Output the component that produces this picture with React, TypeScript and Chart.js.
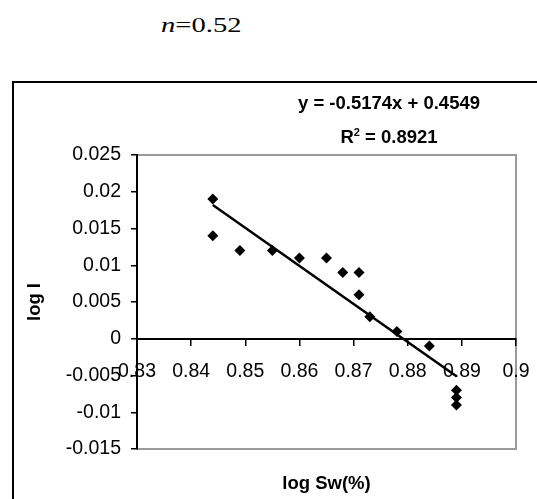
import React, { useEffect, useRef } from "react";
import { Chart, registerables } from "chart.js";

Chart.register(...registerables);

// Measured data points (log Sw(%), log I)
const xValues = [0.844, 0.844, 0.849, 0.855, 0.86, 0.865, 0.868, 0.871, 0.871, 0.873, 0.878, 0.884, 0.889, 0.889, 0.889];
const yValues = [0.019, 0.014, 0.012, 0.012, 0.011, 0.011, 0.009, 0.009, 0.006, 0.003, 0.001, -0.001, -0.007, -0.008, -0.009];

// Linear trend line end points (y = -0.5174x + 0.4549)
const trendX = [0.844, 0.889];
const trendY = [0.0182, -0.0051];

const xTickLabels = ["0.83", "0.84", "0.85", "0.86", "0.87", "0.88", "0.89", "0.9"];
const yTickLabels = ["-0.015", "-0.01", "-0.005", "0", "0.005", "0.01", "0.015", "0.02", "0.025"];

const titleText = "n=0.52";
const equationText = "y = -0.5174x + 0.4549";
const r2Text = "0.8921";
const xTitle = "log Sw(%)";
const yTitle = "log I";

const SANS = "'Liberation Sans', Arial, sans-serif";

const plotBorder = {
  id: "plotBorder",
  beforeDraw(chart: any) {
    const { ctx, chartArea } = chart;
    ctx.save();
    ctx.strokeStyle = "#9a9a9a";
    ctx.lineWidth = 2;
    ctx.strokeRect(chartArea.left, chartArea.top, chartArea.right - chartArea.left, chartArea.bottom - chartArea.top);
    ctx.restore();
  },
};

export default function App() {
  const ref = useRef<HTMLCanvasElement>(null);

  useEffect(() => {
    if (!ref.current) return;
    const chart = new Chart(ref.current, {
      type: "scatter",
      data: {
        datasets: [
          {
            label: "data",
            data: xValues.map((x, i) => ({ x, y: yValues[i] })),
            pointStyle: "rectRot",
            pointRadius: 5.5,
            backgroundColor: "#000",
            borderColor: "#000",
            borderWidth: 0,
          },
          {
            label: "trend",
            data: trendX.map((x, i) => ({ x, y: trendY[i] })),
            showLine: true,
            pointRadius: 0,
            borderColor: "#000",
            borderWidth: 2.5,
          },
        ],
      },
      options: {
        animation: false,
        responsive: false,
        maintainAspectRatio: false,
        events: [],
        layout: { padding: { left: 0, top: 155, right: 21, bottom: 0 } },
        plugins: { legend: { display: false }, tooltip: { enabled: false }, title: { display: false } },
        scales: {
          x: {
            type: "linear",
            position: { y: 0 } as any,
            min: 0.83,
            max: 0.9,
            ticks: {
              stepSize: 0.01,
              padding: 15,
              color: "#000",
              font: { family: SANS, size: 19.5 },
              maxRotation: 0,
              autoSkip: false,
              callback: (_v: any, i: number) => xTickLabels[i],
            },
            grid: { display: true, drawOnChartArea: false, drawTicks: true, tickLength: 6, color: "#000", lineWidth: 1.5 },
            border: { display: true, color: "#000", width: 2 },
            afterFit: (s: any) => {
              s.paddingLeft = 0;
              s.paddingRight = 0;
            },
          },
          x2: {
            type: "linear",
            position: "bottom",
            min: 0.83,
            max: 0.9,
            ticks: { display: false },
            grid: { display: false },
            border: { display: true, color: "#9a9a9a", width: 2 },
            title: {
              display: true,
              text: xTitle,
              color: "#000",
              font: { family: SANS, size: 18.5, weight: "bold" },
              padding: { top: 0, bottom: 4 },
            },
            afterFit: (s: any) => {
              s.height = 50;
              s.paddingLeft = 0;
              s.paddingRight = 0;
            },
          },
          y: {
            type: "linear",
            position: "left",
            min: -0.015,
            max: 0.025,
            ticks: {
              stepSize: 0.005,
              padding: 10,
              color: "#000",
              font: { family: SANS, size: 19.5 },
              autoSkip: false,
              callback: (_v: any, i: number) => yTickLabels[i],
            },
            grid: { display: true, drawOnChartArea: false, drawTicks: true, tickLength: 6, color: "#000", lineWidth: 1.5 },
            border: { display: true, color: "#000", width: 2 },
            title: {
              display: true,
              text: yTitle,
              color: "#000",
              font: { family: SANS, size: 18.5, weight: "bold" },
              padding: { top: 24, bottom: 0 },
            },
            afterFit: (s: any) => {
              s.width = 137;
              s.paddingTop = 0;
              s.paddingBottom = 0;
            },
          },
        },
      },
      plugins: [plotBorder],
    } as any);
    return () => chart.destroy();
  }, []);

  return (
    <div style={{ position: "fixed", left: 0, top: 0, width: 537, height: 499, overflow: "hidden", background: "#fff" }}>
      <div
        style={{
          position: "absolute",
          left: 161,
          top: 13.9,
          fontFamily: "'Liberation Serif', 'Times New Roman', serif",
          fontSize: 22,
          lineHeight: "22px",
          whiteSpace: "nowrap",
          color: "#000",
          transform: "scaleX(1.3)",
          transformOrigin: "left top",
        }}
      >
        <i>{titleText.slice(0, 1)}</i>
        {titleText.slice(1)}
      </div>
      <div
        style={{
          position: "absolute",
          left: 12,
          top: 81,
          width: 700,
          height: 700,
          border: "2px solid #000",
          boxSizing: "border-box",
        }}
      />
      <canvas ref={ref} width={537} height={499} style={{ position: "absolute", left: 0, top: 0, width: 537, height: 499 }} />
      <div
        style={{
          position: "absolute",
          left: 239,
          width: 300,
          top: 93,
          textAlign: "center",
          fontFamily: SANS,
          fontWeight: "bold",
          fontSize: 18.5,
          lineHeight: "20px",
          whiteSpace: "nowrap",
          color: "#000",
        }}
      >
        {equationText}
      </div>
      <div
        style={{
          position: "absolute",
          left: 239,
          width: 300,
          top: 126.6,
          textAlign: "center",
          fontFamily: SANS,
          fontWeight: "bold",
          fontSize: 18.5,
          lineHeight: "20px",
          whiteSpace: "nowrap",
          color: "#000",
        }}
      >
        R<span style={{ fontSize: 11, position: "relative", top: -7 }}>2</span> = {r2Text}
      </div>
    </div>
  );
}
